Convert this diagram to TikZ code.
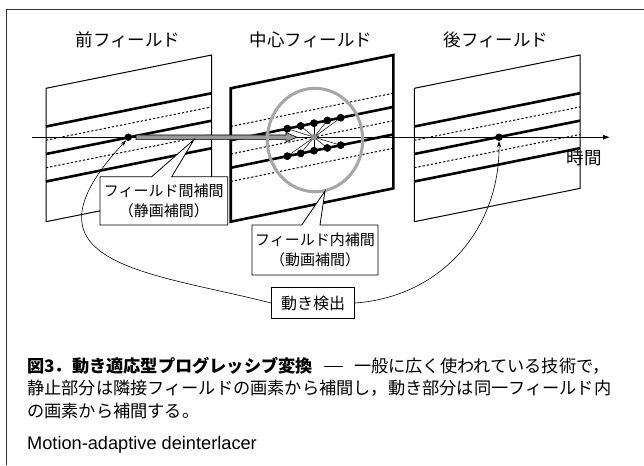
\documentclass[tikz,border=0pt]{standalone}
\usepackage{fontspec}
\newfontfamily\jp{Noto Sans CJK JP}
\newfontfamily\lsans{Liberation Sans}
\usetikzlibrary{arrows.meta,calc}
\begin{document}
\begin{tikzpicture}[x=1pt,y=-1pt,
  thinpanel/.style={draw=black,line width=1pt},
  thickpanel/.style={draw=black,line width=2.6pt},
  scanline/.style={line width=2.6pt},
  missline/.style={line width=1pt,dash pattern=on 2.2pt off 2pt},
  pix/.style={circle,fill=black,inner sep=0pt,minimum size=7.5pt},
  lbl/.style={font=\jp\fontsize{17.5}{20}\selectfont,inner sep=0pt},
  boxtxt/.style={font=\jp\fontsize{15}{19.5}\selectfont,align=center,inner sep=0pt},
  callout/.style={draw=black,fill=white,line width=0.8pt},
  link/.style={line width=0.6pt,-{Stealth[length=6pt,width=4pt]}},
  captxt/.style={font=\jp\fontsize{17.2}{21}\selectfont,anchor=west,inner sep=0pt},
]
\useasboundingbox (0,0) rectangle (644,465);
\fill[white] (0,0) rectangle (644,465);
\draw[line width=1pt,black!80] (644,9.5) -- (6.7,9.5) -- (6.7,465);

% panel corners
\coordinate (LTL) at (46,88.3);   \coordinate (LTR) at (211.7,55);
\coordinate (LBR) at (211.7,188.4); \coordinate (LBL) at (46,221.7);
\coordinate (CTL) at (230.7,88.3); \coordinate (CTR) at (393.3,55);
\coordinate (CBR) at (393.3,188.4); \coordinate (CBL) at (230.7,221.7);
\coordinate (RTL) at (414.3,88.3); \coordinate (RTR) at (580,55);
\coordinate (RBR) at (580,188.4); \coordinate (RBL) at (414.3,221.7);

% scan lines
\foreach \p in {L,R}{
  \foreach \f in {0.2864,0.4925,0.6987}
    \draw[scanline] ($(\p TL)!\f!(\p BL)$) -- ($(\p TR)!\f!(\p BR)$);
  \foreach \f in {0.3894,0.5956}
    \draw[missline] ($(\p TL)!\f!(\p BL)$) -- ($(\p TR)!\f!(\p BR)$);
}
\foreach \f in {0.3894,0.5956}
  \draw[scanline] ($(CTL)!\f!(CBL)$) -- ($(CTR)!\f!(CBR)$);
\foreach \f in {0.2864,0.4925,0.6987}
  \draw[missline] ($(CTL)!\f!(CBL)$) -- ($(CTR)!\f!(CBR)$);

% panels
\draw[thinpanel] (LTL) -- (LTR) -- (LBR) -- (LBL) -- cycle;
\draw[thinpanel] (RTL) -- (RTR) -- (RBR) -- (RBL) -- cycle;
\draw[thickpanel] (CTL) -- (CTR) -- (CBR) -- (CBL) -- cycle;

% time axis
\coordinate (axs) at (32,137.2);
\coordinate (axe) at (610,137.2);
\draw[line width=0.8pt,-{Latex[length=7pt,width=5pt]}] (axs) -- (axe);

% gray inter-field arrow
\draw[fill=black!40,line width=0.6pt] (136,135) -- (286,135) -- (286,132.5) -- (297,137.2)
  -- (286,141.9) -- (286,139.6) -- (136,139.6) -- cycle;

% intra-field pixels
\node[circle,fill=black!45,inner sep=0pt,minimum size=6pt] (c) at (314,137.2) {};
\node[pix] (u1) at (287.3,128.66) {};
\node[pix] (u2) at (300.7,125.91) {};
\node[pix] (u3) at (314,123.19) {};
\node[pix] (u4) at (327.3,120.47) {};
\node[pix] (u5) at (340.7,117.72) {};
\node[pix] (d1) at (287.3,156.16) {};
\node[pix] (d2) at (300.7,153.41) {};
\node[pix] (d3) at (314,150.69) {};
\node[pix] (d4) at (327.3,147.97) {};
\node[pix] (d5) at (340.7,145.22) {};
\foreach \i in {1,...,5}{
  \draw[line width=0.5pt] (c.center) -- (u\i.center);
  \draw[line width=0.5pt] (c.center) -- (d\i.center);
}
\foreach \i in {1,...,5}{
  \node[pix] at (u\i) {};
  \node[pix] at (d\i) {};
}
\node[circle,fill=black!45,inner sep=0pt,minimum size=6pt] at (c) {};

\draw[black!35,line width=3pt] (315,140) ellipse [x radius=47.7pt, y radius=51.7pt];

% prev / next field pixels
\node[pix] (pdot) at (128.3,137.2) {};
\node[pix] (ndot) at (499,137.2) {};

% callouts
\draw[callout] (100,176.7) -- (151.7,176.7) -- (194,139.6) -- (171.7,176.7) -- (227.7,176.7)
  -- (227.7,225) -- (100,225) -- cycle;
\node[boxtxt] (t1) at (163.8,201) {フィールド間補間\\（静画補間）};
\draw[callout] (252,225) -- (301.7,225) -- (325,191) -- (320,225) -- (378,225)
  -- (378,275) -- (252,275) -- cycle;
\node[boxtxt] (t2) at (315,250) {フィールド内補間\\（動画補間）};

\node[draw=black,line width=0.8pt,fill=white,minimum width=83pt,minimum height=31pt,
  font=\jp\fontsize{16}{19}\selectfont,inner sep=0pt] (det) at (313,303) {動き検出};

\draw[link] (det.west) .. controls (150,272) and (10,265) .. (pdot.235);
\draw[link] (det.east) .. controls (440,297) and (500,230) .. (ndot.270);

% labels
\node[lbl] (lp) at (128,40) {前フィールド};
\node[lbl] (cp) at (311,40) {中心フィールド};
\node[lbl] (np) at (496,40) {後フィールド};
\node[lbl] (tm) at (584,158) {時間};

% caption
\node[captxt] (cap1) at (27,366) {{\bfseries 図3．動き適応型プログレッシブ変換}\hspace{0.65em}\rule[0.33em]{1.1em}{0.07em}\hspace{0.65em}一般に広く使われている技術で，};
\node[captxt] (cap2) at (27,388.5) {静止部分は隣接フィールドの画素から補間し，動き部分は同一フィールド内};
\node[captxt] (cap3) at (27,411) {の画素から補間する。};
\node[anchor=west,inner sep=0pt,font=\lsans\fontsize{18.2}{20}\selectfont] (cap4) at (27,445) {Motion-adaptive deinterlacer};
\end{tikzpicture}
\end{document}
